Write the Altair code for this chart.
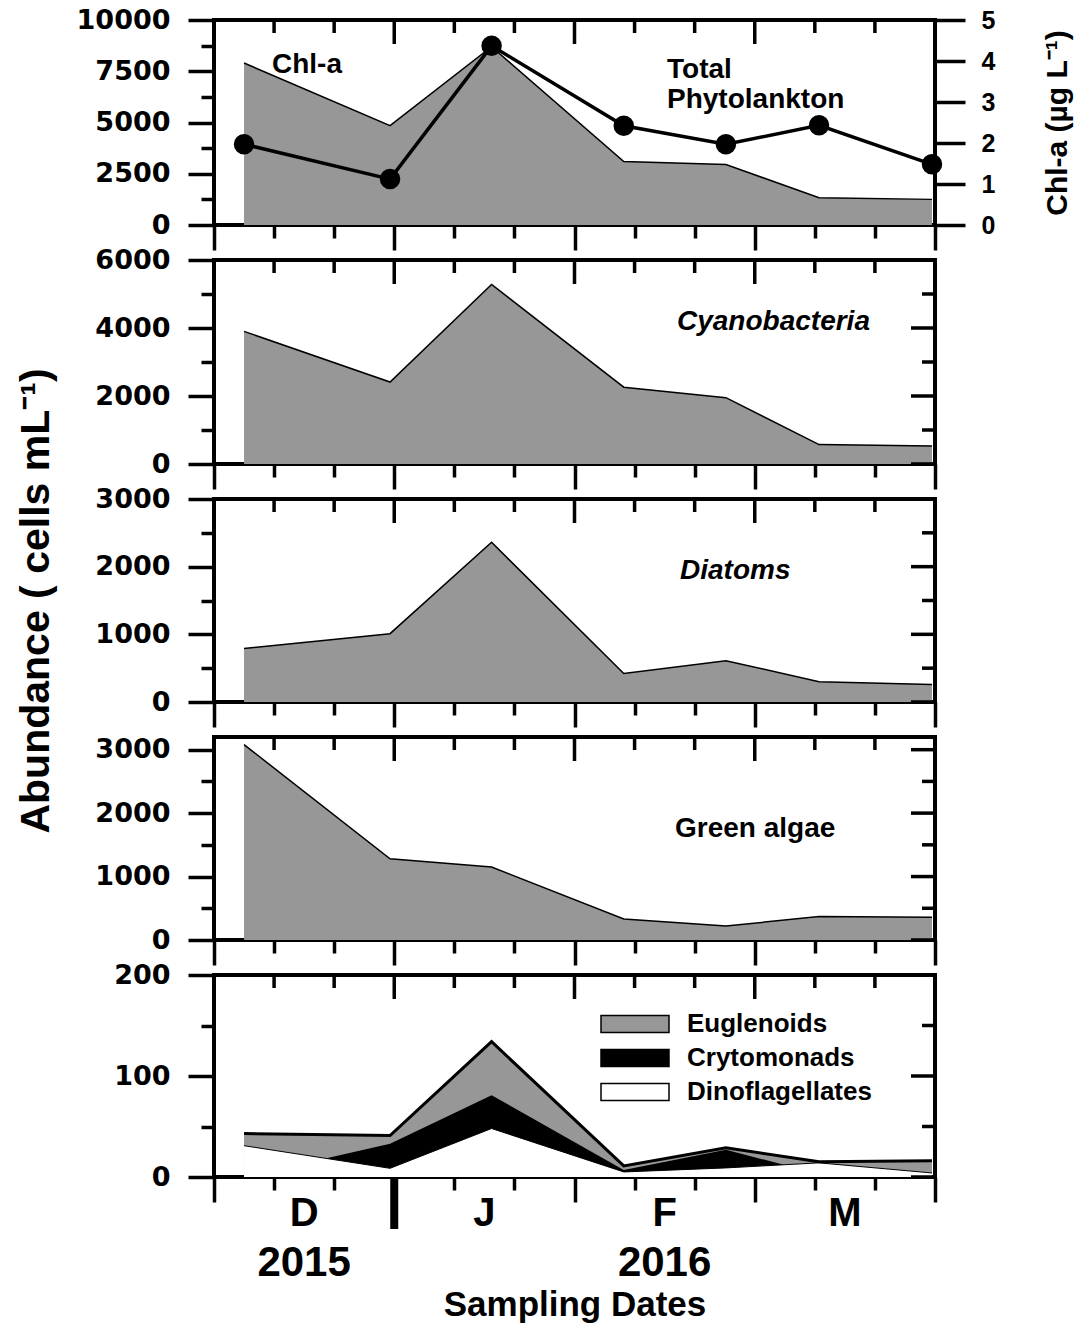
import altair as alt
import pandas as pd

# Sampling positions along the x axis, in 10-day steps from 1 December 2015
sample_pos = [0.5, 2.93, 4.62, 6.82, 8.52, 10.07, 11.95]

# Abundances (cells mL-1) and chlorophyll-a (ug L-1)
total_phyto = [7900, 4850, 8700, 3100, 2950, 1330, 1250]
chl_a = [1.97, 1.12, 4.37, 2.42, 1.97, 2.43, 1.48]
cyanobacteria = [3900, 2410, 5280, 2260, 1950, 570, 530]
diatoms = [790, 1010, 2360, 420, 610, 300, 260]
green_algae = [3080, 1280, 1150, 330, 220, 370, 360]
euglenoids = [43, 41, 134, 11, 29, 15, 16]
crytomonads = [0, 33, 81, 7, 27, 3, 1]
dinoflagellates = [31, 8.6, 48, 5, 9, 14, 4]

minor_groups = ["Euglenoids", "Crytomonads", "Dinoflagellates"]
group_colors = ["#979797", "#000000", "#ffffff"]

month_labels = ["D", "J", "F", "M"]
month_centres = [1.5, 4.5, 7.5, 10.5]
year_labels = ["2015", "2016"]
year_centres = [1.5, 7.5]
year_break = [3]
x_ticks = list(range(13))

W = 721
HEIGHTS = [205, 204, 203, 203, 202]
SPACING = 35
GRAY = "#979797"
BOLD = "Liberation Sans"
TICKW = 3.5

xscale = alt.Scale(domain=[0, 12], nice=False, zero=False)

wide = pd.DataFrame({
    "pos": sample_pos, "total": total_phyto, "chl": chl_a,
    "cyano": cyanobacteria, "diatoms": diatoms, "green": green_algae,
})
small = pd.DataFrame({
    "pos": sample_pos * 3,
    "group": [g for g in minor_groups for _ in sample_pos],
    "count": euglenoids + crytomonads + dinoflagellates,
})


def x_axis(title=None):
    kw = dict(
        values=x_ticks,
        tickSize={"condition": {"test": "datum.value % 3 === 0", "value": 25}, "value": 13},
        tickWidth=TICKW, tickColor="black", labels=False, domain=False, grid=False,
    )
    if title:
        kw.update(title=title, titleFont=BOLD, titleFontWeight="bold", titleFontSize=35,
                  titleColor="black", titlePadding=84)
    return alt.Axis(**kw)


def y_axis(vals, major, title=None):
    kw = dict(
        values=vals,
        tickSize={"condition": {"test": f"datum.value % {major} === 0", "value": 26}, "value": 13},
        labelExpr=f"datum.value % {major} === 0 ? datum.label : ''",
        format="d", labelFont="DejaVu Sans", labelFontWeight="bold", labelFontSize=27,
        labelColor="black", labelPadding=18, labelOverlap=False, labelFlush=False,
        labelBound=False, tickWidth=TICKW, tickColor="black", domain=False, grid=False,
    )
    if title:
        kw.update(title=title, titleFont=BOLD, titleFontWeight="bold", titleFontSize=41,
                  titleColor="black", titlePadding=37)
    return alt.Axis(**kw)


def inner_ticks(xa, yscale, ya, yvals, major, right=True):
    """Inward-pointing ticks on the top (and right) frame edges."""
    layers = []
    tdf = pd.DataFrame({"t": x_ticks})
    for cond, ln in [("datum.t % 3 === 0", 24), ("datum.t % 3 !== 0", 13)]:
        layers.append(
            alt.Chart(tdf).transform_filter(cond)
            .mark_rule(color="black", strokeWidth=TICKW)
            .encode(x=alt.X("t:Q", scale=xscale, axis=xa, title=None),
                    y=alt.value(0), y2=alt.value(ln))
        )
    if right:
        ydf = pd.DataFrame({"v": yvals})
        for cond, ln in [(f"datum.v % {major} === 0", 24), (f"datum.v % {major} !== 0", 13)]:
            layers.append(
                alt.Chart(ydf).transform_filter(cond)
                .mark_rule(color="black", strokeWidth=TICKW)
                .encode(y=alt.Y("v:Q", scale=yscale, axis=ya, title=None),
                        x=alt.value(W - ln), x2=alt.value(W))
            )
    return layers


def label(text, x, y, italic=False, size=28):
    return alt.Chart(pd.DataFrame({"name": [text]})).mark_text(
        align="left", baseline="middle", font=BOLD, fontWeight="bold",
        fontStyle="italic" if italic else "normal", fontSize=size, color="black",
        lineBreak="\n", lineHeight=30,
    ).encode(x=alt.value(x), y=alt.value(y), text="name:N")


def area_layer(field, xa, yscale, ya):
    return alt.Chart(wide).mark_area(
        color=GRAY, opacity=1, line={"color": "black", "strokeWidth": 1.5}
    ).encode(
        x=alt.X("pos:Q", scale=xscale, axis=xa, title=None),
        y=alt.Y(f"{field}:Q", scale=yscale, axis=ya, title=None),
    )


def simple_panel(field, ymax, step, major, height, name, lx, ly, italic, title=None):
    ys = alt.Scale(domain=[0, ymax], nice=False)
    vals = list(range(0, ymax + 1, step)) if ymax % step == 0 else list(range(0, ymax, step))
    xa = x_axis()
    ya = y_axis(vals, major, title=title)
    return alt.layer(
        area_layer(field, xa, ys, ya),
        *inner_ticks(xa, ys, ya, vals, major),
        label(name, lx, ly, italic=italic),
    ).properties(width=W, height=height)


# --- Panel 1: total phytoplankton with chlorophyll-a on a second axis
y1 = alt.Scale(domain=[0, 10000], nice=False)
v1 = list(range(0, 10001, 1250))
xa1 = x_axis()
ya1 = y_axis(v1, 2500)
chl_axis = alt.Axis(
    orient="right", values=[0, 1, 2, 3, 4, 5], tickSize=30, tickWidth=TICKW,
    tickColor="black", domain=False, grid=False, labelFont=BOLD, labelFontWeight="bold",
    labelFontSize=25, labelColor="black", labelPadding=16, labelFlush=False,
    title="Chl-a (µg L⁻¹)", titleFont=BOLD, titleFontWeight="bold", titleFontSize=30,
    titleColor="black", titleAngle=270, titlePadding=78,
)
p1_chl = alt.Chart(wide).mark_line(
    color="black", strokeWidth=3.5,
    point={"filled": True, "size": 420, "color": "black"},
).encode(
    x=alt.X("pos:Q", scale=xscale, axis=xa1, title=None),
    y=alt.Y("chl:Q", scale=alt.Scale(domain=[0, 5], nice=False), axis=chl_axis, title=None),
)
p1 = alt.layer(
    area_layer("total", xa1, y1, ya1), p1_chl,
    *inner_ticks(xa1, y1, ya1, v1, 2500, right=False),
    label("Chl-a", 58, 45), label("Total\nPhytolankton", 453, 50),
).resolve_scale(y="independent").properties(width=W, height=HEIGHTS[0])

# --- Panels 2-4
p2 = simple_panel("cyano", 6000, 1000, 2000, HEIGHTS[1], "Cyanobacteria", 463, 62, True)
p3 = simple_panel("diatoms", 3000, 500, 1000, HEIGHTS[2], "Diatoms", 466, 72, True,
                  title="Abundance ( cells mL⁻¹)")
p4 = simple_panel("green", 3200, 500, 1000, HEIGHTS[3], "Green algae", 461, 92, False)

# --- Panel 5: minor groups drawn as overlapping areas from zero
y5 = alt.Scale(domain=[0, 200], nice=False)
v5 = list(range(0, 201, 50))
H5 = HEIGHTS[4]
xa5 = x_axis("Sampling Dates")
ya5 = y_axis(v5, 100)
top_of_p5 = sum(HEIGHTS[:4]) + 4 * SPACING
cscale = alt.Scale(domain=minor_groups, range=group_colors)
legend = alt.Legend(
    title=None, orient="none", legendX=408, legendY=top_of_p5 + 36, padding=0,
    symbolType="M-4,-1H4V1H-4Z", symbolSize=289, symbolStrokeColor="black",
    symbolStrokeWidth=1.5, symbolOpacity=1, labelOffset=39, rowPadding=8,
    labelFont=BOLD, labelFontWeight="bold", labelFontSize=26, labelColor="black",
    labelLimit=400,
)


def group_area(name):
    return alt.Chart(small).transform_filter(alt.datum.group == name).mark_area(opacity=1).encode(
        x=alt.X("pos:Q", scale=xscale, axis=xa5, title=None),
        y=alt.Y("count:Q", scale=y5, axis=ya5, stack=None, title=None),
        color=alt.Color("group:N", scale=cscale, legend=legend),
    )


def group_line(name, width):
    return alt.Chart(small).transform_filter(alt.datum.group == name).mark_line(
        color="black", strokeWidth=width
    ).encode(
        x=alt.X("pos:Q", scale=xscale, axis=xa5, title=None),
        y=alt.Y("count:Q", scale=y5, axis=ya5, title=None),
    )


months = pd.DataFrame({"pos": month_centres, "txt": month_labels})
years = pd.DataFrame({"pos": year_centres, "txt": year_labels})
brk = pd.DataFrame({"pos": year_break})

p5 = alt.layer(
    group_area("Euglenoids"),
    group_area("Crytomonads"),
    group_area("Dinoflagellates"),
    group_line("Dinoflagellates", 1),
    group_line("Euglenoids", 3),
    *inner_ticks(xa5, y5, ya5, v5, 100),
    alt.Chart(brk).mark_rule(color="black", strokeWidth=8).encode(
        x=alt.X("pos:Q", scale=xscale, axis=xa5, title=None),
        y=alt.value(H5), y2=alt.value(H5 + 52)),
    alt.Chart(months).mark_text(font=BOLD, fontWeight="bold", fontSize=40, baseline="middle",
                                color="black").encode(
        x=alt.X("pos:Q", scale=xscale, axis=xa5, title=None),
        y=alt.value(H5 + 37), text="txt:N"),
    alt.Chart(years).mark_text(font=BOLD, fontWeight="bold", fontSize=42, baseline="middle",
                               color="black").encode(
        x=alt.X("pos:Q", scale=xscale, axis=xa5, title=None),
        y=alt.value(H5 + 86), text="txt:N"),
).properties(width=W, height=H5)

chart = alt.vconcat(p1, p2, p3, p4, p5, spacing=SPACING, bounds="flush").properties(
    padding={"left": 13, "top": 4, "right": 5, "bottom": 0},
    background="white",
).configure_view(stroke="black", strokeWidth=4)

chart.save("out.html", embed_options={"renderer": "svg", "actions": False})
